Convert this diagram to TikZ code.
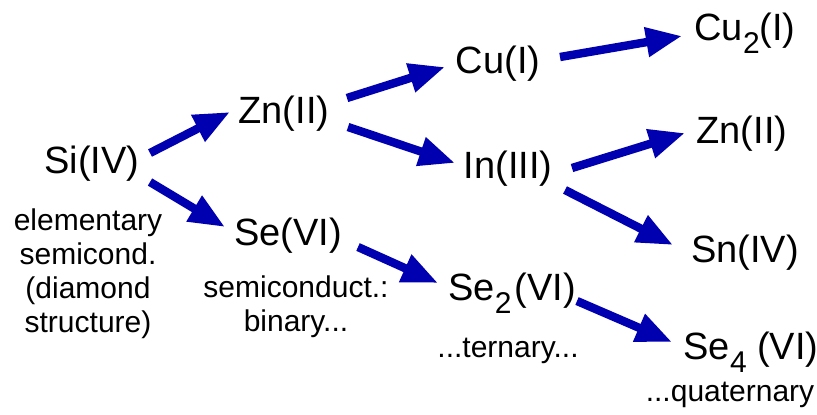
\documentclass[tikz,border=0pt]{standalone}
\usepackage{fontspec}
\setmainfont{Liberation Sans}
\usetikzlibrary{arrows.meta,positioning}

\definecolor{arrowblue}{RGB}{0,0,176}
\newcommand{\lowsub}[1]{\raisebox{-6.5pt}{\fontsize{15}{15}\selectfont #1}}

\begin{document}
\begin{tikzpicture}[
  x=0.5pt, y=-0.5pt,
  elem/.style={inner sep=0pt, anchor=base, font=\fontsize{19}{21}\selectfont},
  note/.style={inner sep=0pt, align=center, font=\fontsize{15}{17}\selectfont},
  arrow/.style={-{Triangle[length=18pt, width=14pt]}, line width=4.2pt, arrowblue}
]
\useasboundingbox (0,0) rectangle (817,414);
% elements
\node[elem] (si) at (92,173) {Si(IV)};
\node[elem] (zn) at (284,123) {Zn(II)};
\node[elem] (se) at (288,245) {Se(VI)};
\node[elem] (cu) at (498,73) {Cu(I)};
\node[elem] (in) at (508,178) {In(III)};
\node[elem] (setwo) at (512,300) {Se\lowsub{2}\kern1.5pt(VI)};
\node[elem] (cutwo) at (745,40) {Cu\lowsub{2}(I)};
\node[elem] (znb) at (742,143) {Zn(II)};
\node[elem] (sn) at (745,262) {Sn(IV)};
\node[elem] (sefour) at (751,359) {Se\lowsub{4} (VI)};
% captions
\node[note, anchor=north] (elementary) at (88,208) {elementary\\semicond.\\(diamond\\structure)};
\node[note, anchor=north] (binary) at (296,275) {semiconduct.:\\binary...};
\node[note, anchor=base] (ternary) at (508,357) {...ternary...};
\node[note, anchor=base] (quaternary) at (730,401) {...quaternary};
% arrows
\draw[arrow] ([shift={(58,-20)}]si.base) -- ([shift={(-54,-11)}]zn.base);
\draw[arrow] ([shift={(58,9)}]si.base) -- ([shift={(-63,-18)}]se.base);
\draw[arrow] ([shift={(63,-25)}]zn.base) -- ([shift={(-53,-6)}]cu.base);
\draw[arrow] ([shift={(64,4)}]zn.base) -- ([shift={(-53,-15)}]in.base);
\draw[arrow] ([shift={(62,-16)}]cu.base) -- ([shift={(-63,-4)}]cutwo.base);
\draw[arrow] ([shift={(64,-10)}]in.base) -- ([shift={(-57,-10)}]znb.base);
\draw[arrow] ([shift={(57,12)}]in.base) -- ([shift={(-72,-17)}]sn.base);
\draw[arrow] ([shift={(70,2)}]se.base) -- ([shift={(-74,-17)}]setwo.base);
\draw[arrow] ([shift={(65,1)}]setwo.base) -- ([shift={(-79,-17)}]sefour.base);
\end{tikzpicture}
\end{document}
